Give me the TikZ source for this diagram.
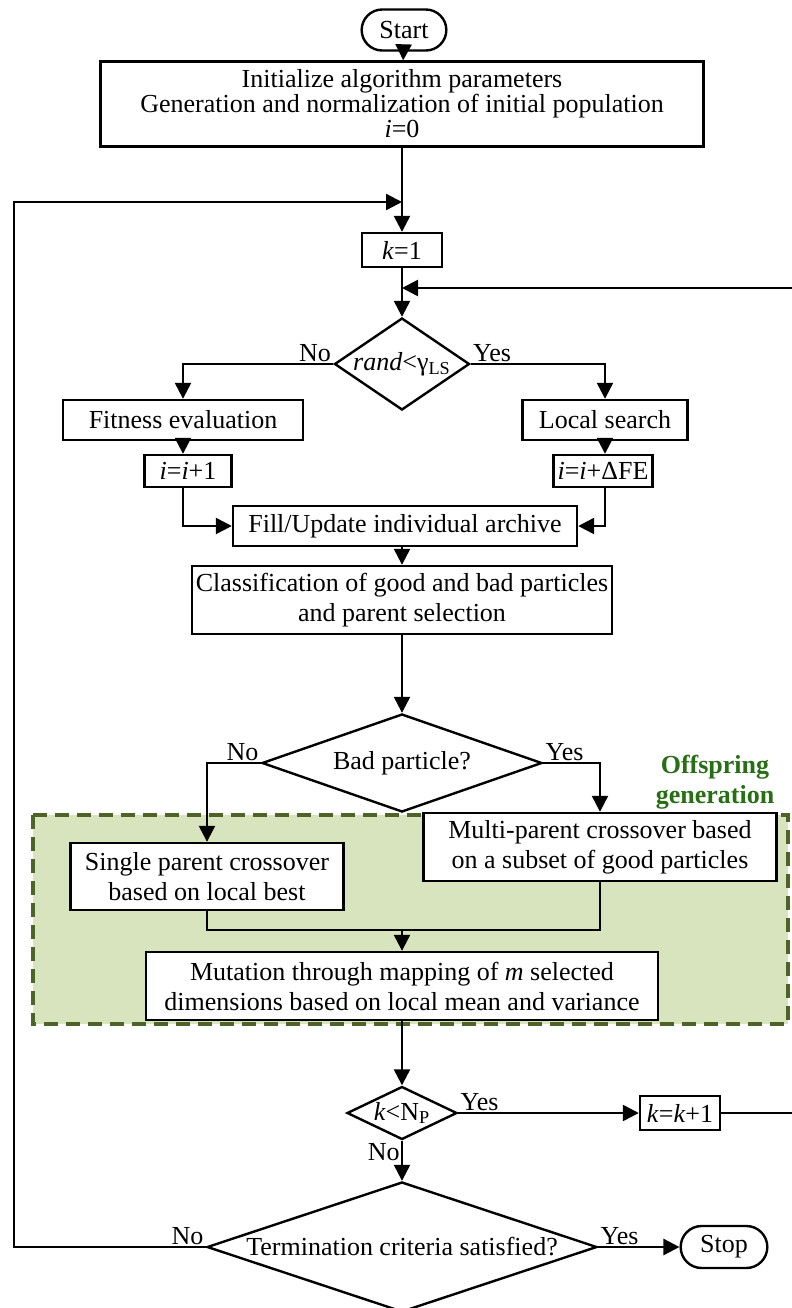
\documentclass[tikz,border=0pt]{standalone}
\usepackage{fontspec}
\setmainfont{Liberation Serif}
\usepackage{tikz}
\usetikzlibrary{arrows.meta, positioning, shapes.geometric, shapes.misc}
\usepackage{xcolor}
\definecolor{offfill}{RGB}{215,228,189}
\definecolor{offline}{RGB}{79,98,40}
\definecolor{offtext}{RGB}{40,110,20}

\begin{document}
\begin{tikzpicture}[
  x=0.5pt, y=-0.5pt,
  font=\fontsize{13}{15}\selectfont,
  box/.style={draw, line width=1.2pt, fill=white, align=center, inner sep=2pt},
  term/.style={draw, line width=1.2pt, rounded rectangle, fill=white},
  cond/.style={draw, line width=1.2pt, diamond, fill=white, inner sep=0pt},
  arr/.style={-{Triangle[length=8pt,width=8pt]}, line width=1.2pt},
  lin/.style={line width=1.2pt},
  lbl/.style={inner sep=1pt}
]
\useasboundingbox (0,0) rectangle (792,1308);

% offspring generation area
\draw[offline, fill=offfill, line width=2pt, dash pattern=on 7pt off 4pt] (33,815) rectangle (788,1024);
\node[offtext, font=\fontsize{13}{15}\selectfont\bfseries, align=center] (offlbl) at (715,782) {Offspring\\generation};

% nodes
\node[term, minimum width=49pt, minimum height=20.5pt] (start) at (404,30) {Start};
\node[box, minimum width=301.5pt, minimum height=42.5pt, font=\fontsize{13}{12.5}\selectfont] (init) at (402,104)
  {Initialize algorithm parameters\\Generation and normalization of initial population\\\textit{i}=0};
\node[box, minimum width=40pt, minimum height=17pt] (k1) at (402,250) {\textit{k}=1};
\node[cond, minimum width=67.5pt, minimum height=46pt, shape aspect=1.47] (rand) at (402,364) {\textit{rand}<γ\textsubscript{LS}};
\node[box, minimum width=120pt, minimum height=20pt] (fit) at (183,420) {Fitness evaluation};
\node[box, minimum width=82.5pt, minimum height=20pt] (ls) at (605,420) {Local search};
\node[box, minimum width=43.5pt, minimum height=16pt] (ii1) at (188,471) {\textit{i}=\textit{i}+1};
\node[box, minimum width=48.5pt, minimum height=16pt] (ife) at (603,471) {\textit{i}=\textit{i}+ΔFE};
\node[box, minimum width=172pt, minimum height=20pt] (fill) at (405,526) {Fill/Update individual archive};
\node[box, minimum width=198pt, minimum height=34pt] (cls) at (402,600) {Classification of good and bad particles\\and parent selection};
\node[cond, minimum width=140pt, minimum height=49pt, shape aspect=2.86] (bad) at (402,763) {Bad particle?};
\node[box, minimum width=136.5pt, minimum height=33.5pt] (single) at (207,876.5) {Single parent crossover\\based on local best};
\node[box, minimum width=176.5pt, minimum height=34pt] (multi) at (600,847) {Multi-parent crossover based\\on a subset of good particles};
\node[box, minimum width=256pt, minimum height=34pt] (mut) at (402,986) {Mutation through mapping of \textit{m} selected\\dimensions based on local mean and variance};
\node[cond, minimum width=55pt, minimum height=26.5pt, shape aspect=2.08] (knp) at (402,1113) {\textit{k}<N\textsubscript{P}};
\node[box, minimum width=40pt, minimum height=17pt] (kk1) at (680,1113) {\textit{k}=\textit{k}+1};
\node[cond, minimum width=195pt, minimum height=65pt, shape aspect=3] (term) at (402,1247) {Termination criteria satisfied?};
\node[term, minimum width=50pt, minimum height=21pt] (stop) at (724,1247) {Stop};

% branch labels
\node[lbl, above left] (randno) at (rand.west) {No};
\node[lbl, above right] (randyes) at (rand.east) {Yes};
\node[lbl, above left] (badno) at (bad.west) {No};
\node[lbl, above right] (badyes) at (bad.east) {Yes};
\node[lbl, above right] (knpyes) at (knp.east) {Yes};
\node[lbl, below left] (knpno) at (knp.south) {No};
\node[lbl, above left] (termno) at (term.west) {No};
\node[lbl, above right] (termyes) at (term.east) {Yes};

% loop points
\coordinate (jk) at (402,202);
\coordinate (jr) at (402,288);
\coordinate (lft) at (14,1247);
\coordinate (rgt) at (800,1113);
\coordinate (mrg) at (402,930);

% connectors
\draw[arr] (start) -- (init);
\draw[arr] (init) -- (k1);
\draw[arr] (k1) -- (rand);
\draw[arr] (rand.west) -| (fit.north);
\draw[arr] (rand.east) -| (ls.north);
\draw[arr] (fit.south) -- (fit.south |- ii1.north);
\draw[arr] (ls.south) -- (ls.south |- ife.north);
\draw[arr] (fit.south |- ii1.south) |- (fill.west);
\draw[arr] (ls.south |- ife.south) |- (fill.east);
\draw[arr] (fill.south -| cls.north) -- (cls);
\draw[arr] (cls) -- (bad);
\draw[arr] (bad.west) -| (single.north);
\draw[arr] (bad.east) -| (multi.north);
\draw[lin] (single.south) |- (mrg);
\draw[lin] (multi.south) |- (mrg);
\draw[arr] (mrg) -- (mut);
\draw[arr] (mut) -- (knp);
\draw[arr] (knp.east) -- (kk1.west);
\draw[arr] (kk1.east) -- (rgt) |- (jr);
\draw[arr] (knp.south) -- (term.north);
\draw[arr] (term.east) -- (stop.west);
\draw[arr] (term.west) -- (lft) |- (jk);
\end{tikzpicture}
\end{document}
